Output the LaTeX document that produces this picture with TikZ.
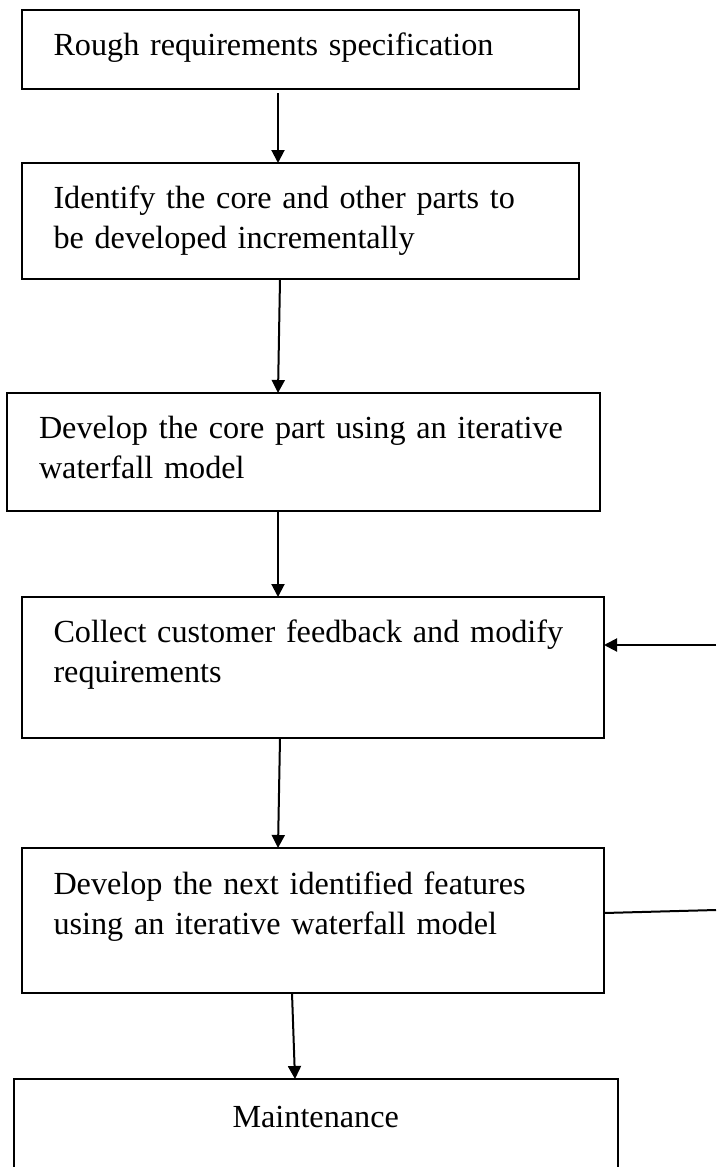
\documentclass[tikz,border=0pt]{standalone}
\usepackage{fontspec}
\setmainfont{Liberation Serif}
\usetikzlibrary{arrows.meta}
\usetikzlibrary{positioning}
\tikzstyle{stage}=[draw,rectangle,line width=2pt,outer sep=0pt,inner xsep=32pt,inner ysep=0pt,align=left,font=\fontsize{32.2pt}{40pt}\selectfont]

\begin{document}
\begin{tikzpicture}[x=1pt,y=1pt,flow/.style={-{Triangle[length=13pt,width=13pt]},line width=2pt}]
	\clip (0,0) rectangle (716,-1167);
	\node [stage,text width=493.5pt,text height=45pt,text depth=34pt,anchor=north west] (rough) at (21.5,-10) {Rough requirements specification};
	\node [stage,text width=493.5pt,text height=45pt,text depth=71pt,below=74pt of rough.south west,anchor=north west] (identify) {\mbox{Identify the core and other parts to}\\be developed incrementally};
	\node [stage,text width=529pt,text height=45pt,text depth=73pt,below=114pt of identify.south west,anchor=north west,xshift=-14.5pt] (core) {\mbox{Develop the core part using an iterative}\\waterfall model};
	\node [stage,text width=518.5pt,text height=45pt,text depth=96pt,below=86pt of core.south west,anchor=north west,xshift=14.5pt] (feedback) {\mbox{Collect customer feedback and modify}\\requirements};
	\node [stage,text width=518.5pt,text height=46pt,text depth=99pt,below=110pt of feedback.south west,anchor=north west] (next) {\mbox{Develop the next identified features}\\using an iterative waterfall model};
	\node [stage,text width=540pt,text height=48pt,text depth=70pt,align=center,below=86pt of next.south west,anchor=north west,xshift=-7.8pt] (maint) {Maintenance};
	% loop back from the increments
	\coordinate (loopin) at (716,-645);
	\coordinate (loopout) at (716,-910);
	\draw [flow] ([xshift=256.5pt,yshift=-4pt]rough.south west) -- ([xshift=256.5pt]identify.north west);
	\draw [flow] ([xshift=258.5pt]identify.south west) -- ([xshift=271pt]core.north west);
	\draw [flow] ([xshift=271pt]core.south west) -- ([xshift=256.5pt]feedback.north west);
	\draw [flow] ([xshift=258.5pt]feedback.south west) -- ([xshift=256.5pt]next.north west);
	\draw [flow] ([xshift=270.5pt]next.south west) -- ([xshift=281.3pt]maint.north west);
	\draw [flow] (loopin) -- (loopin -| feedback.east);
	\draw [line width=2pt] ([yshift=7.5pt]next.east) -- (loopout);
\end{tikzpicture}
\end{document}
